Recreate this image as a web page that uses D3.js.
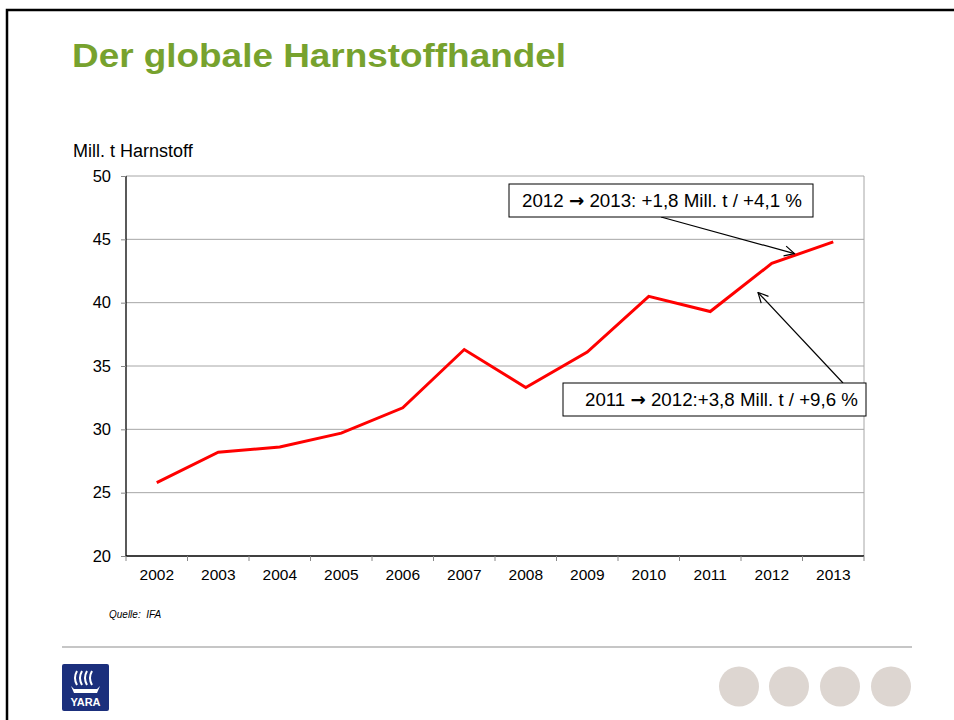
<!DOCTYPE html>
<html>
<head>
<meta charset="utf-8">
<script src="https://cdn.jsdelivr.net/npm/d3@7"></script>
<style>
  html, body { margin: 0; padding: 0; background: #fff; }
  svg { display: block; font-family: "Liberation Sans", Arial, sans-serif; }
</style>
</head>
<body>
<script>
const years = ["2002","2003","2004","2005","2006","2007","2008","2009","2010","2011","2012","2013"];
const values = [25.8, 28.2, 28.6, 29.7, 31.7, 36.3, 33.3, 36.1, 40.5, 39.3, 43.1, 44.8];
const yTicks = [20, 25, 30, 35, 40, 45, 50];
const titleText = "Der globale Harnstoffhandel";
const yLabel = "Mill. t Harnstoff";
const sourceText = "Quelle:  IFA";
const annotations = [
  { pre: "2012 ", arrow: "\u2192", post: " 2013: +1,8 Mill. t / +4,1 %" },
  { pre: "2011 ", arrow: "\u2192", post: " 2012:+3,8 Mill. t / +9,6 %" }
];

const W = 954, H = 720;
const svg = d3.select("body").append("svg").attr("width", W).attr("height", H);

svg.append("defs").append("marker")
  .attr("id", "arr").attr("viewBox", "0 0 12 12").attr("refX", 11).attr("refY", 6)
  .attr("markerWidth", 12).attr("markerHeight", 12).attr("markerUnits", "userSpaceOnUse")
  .attr("orient", "auto")
  .append("path").attr("d", "M1,1 L11,6 L1,11").attr("fill", "none")
  .attr("stroke", "#000").attr("stroke-width", 1.2);

// slide frame (top + left)
svg.append("path").attr("d", "M7,720 L7,10 L954,10").attr("fill", "none")
  .attr("stroke", "#000").attr("stroke-width", 2.5);

// title
svg.append("text").attr("x", 72).attr("y", 67).text(titleText)
  .attr("font-size", 33).attr("font-weight", "bold").attr("fill", "#77a22e")
  .attr("textLength", 494).attr("lengthAdjust", "spacingAndGlyphs");

const plot = { left: 126, right: 864, top: 176, bottom: 556 };
const x = d3.scaleBand().domain(years).range([plot.left, plot.right]);
const y = d3.scaleLinear().domain([20, 50]).range([plot.bottom, plot.top]);

// gridlines
svg.append("g").selectAll("line").data(yTicks.filter(d => d > 20)).join("line")
  .attr("x1", plot.left).attr("x2", plot.right)
  .attr("y1", d => y(d)).attr("y2", d => y(d))
  .attr("stroke", "#a6a6a6").attr("stroke-width", 1);
svg.append("line").attr("x1", plot.right).attr("x2", plot.right)
  .attr("y1", plot.top).attr("y2", plot.bottom)
  .attr("stroke", "#a6a6a6").attr("stroke-width", 1);

// y axis
const yAxis = svg.append("g").attr("transform", `translate(${plot.left},0)`)
  .call(d3.axisLeft(y).tickValues(yTicks).tickSize(5).tickPadding(10));
yAxis.select(".domain").attr("stroke", "#000").attr("stroke-width", 1.3).attr("d", `M0,${plot.top}V${plot.bottom}`);
yAxis.selectAll(".tick line").attr("stroke", "#888");
yAxis.selectAll(".tick text").attr("font-size", 16.5).attr("fill", "#000")
  .attr("font-family", "Liberation Sans, Arial, sans-serif");

// x axis
const xAxis = svg.append("g").attr("transform", `translate(0,${plot.bottom})`)
  .call(d3.axisBottom(x).tickSize(0).tickPadding(13));
xAxis.select(".domain").attr("stroke", "#000").attr("stroke-width", 1.3).attr("d", `M${plot.left},0H${plot.right}`);
xAxis.selectAll(".tick text").attr("font-size", 15.5).attr("fill", "#000")
  .attr("font-family", "Liberation Sans, Arial, sans-serif");
const bounds = years.map(d => x(d)).concat([x(years[years.length - 1]) + x.bandwidth()]);
svg.append("g").selectAll("line").data(bounds).join("line")
  .attr("x1", d => d).attr("x2", d => d)
  .attr("y1", plot.bottom).attr("y2", plot.bottom + 5)
  .attr("stroke", "#888").attr("stroke-width", 1);

// y label
svg.append("text").attr("x", 73).attr("y", 157).text(yLabel)
  .attr("font-size", 18).attr("fill", "#000");

// line
const cx = d => x(d) + x.bandwidth() / 2;
const line = d3.line().x((d, i) => cx(years[i])).y(d => y(d));
svg.append("path").datum(values).attr("d", line)
  .attr("fill", "none").attr("stroke", "#ff0000").attr("stroke-width", 3)
  .attr("stroke-linejoin", "miter");

function midpoint(a, b) {
  const ia = years.indexOf(a), ib = years.indexOf(b);
  return [(cx(a) + cx(b)) / 2, (y(values[ia]) + y(values[ib])) / 2];
}
function label(a, tx, ty, len) {
  const t = svg.append("text").attr("x", tx).attr("y", ty).attr("font-size", 18.5).attr("fill", "#000")
    .attr("xml:space", "preserve").attr("textLength", len).attr("lengthAdjust", "spacingAndGlyphs");
  t.append("tspan").text(a.pre);
  t.append("tspan").text(a.arrow).attr("font-family", "DejaVu Sans").attr("font-weight", "bold").attr("font-size", 18);
  t.append("tspan").text(a.post);
}
// annotation 1
{
  const box = { x: 509, y: 184, w: 304, h: 33 };
  const m = midpoint("2012", "2013");
  svg.append("line").attr("x1", 661).attr("y1", box.y + box.h)
    .attr("x2", m[0] - 8).attr("y2", m[1] + 1)
    .attr("stroke", "#000").attr("stroke-width", 1.2).attr("marker-end", "url(#arr)");
  svg.append("rect").attr("x", box.x).attr("y", box.y).attr("width", box.w).attr("height", box.h)
    .attr("fill", "#fff").attr("stroke", "#000").attr("stroke-width", 1);
  label(annotations[0], 522, 207, 280);
}
// annotation 2
{
  const box = { x: 563, y: 383, w: 303, h: 33 };
  const m = midpoint("2011", "2012");
  svg.append("line").attr("x1", 843).attr("y1", box.y)
    .attr("x2", m[0] + 17).attr("y2", m[1] + 5)
    .attr("stroke", "#000").attr("stroke-width", 1.2).attr("marker-end", "url(#arr)");
  svg.append("rect").attr("x", box.x).attr("y", box.y).attr("width", box.w).attr("height", box.h)
    .attr("fill", "#fff").attr("stroke", "#000").attr("stroke-width", 1);
  label(annotations[1], 585, 406, 273);
}

// source
svg.append("text").attr("x", 109).attr("y", 618).text(sourceText)
  .attr("font-size", 10).attr("font-style", "italic").attr("fill", "#000")
  .attr("xml:space", "preserve").style("white-space", "pre");

// footer line
svg.append("line").attr("x1", 62).attr("x2", 912).attr("y1", 647).attr("y2", 647)
  .attr("stroke", "#b3b3b3").attr("stroke-width", 1.3);

// logo
const logo = svg.append("g").attr("transform", "translate(62,664)");
logo.append("rect").attr("width", 47).attr("height", 47).attr("rx", 2).attr("fill", "#1b2f7c");
[0, 1, 2, 3].forEach(i => {
  logo.append("path").attr("d", `M${15 + i * 5},7 Q${11 + i * 5},14 ${15 + i * 5},21`)
    .attr("fill", "none").attr("stroke", "#fff").attr("stroke-width", 2);
});
logo.append("path").attr("d", "M9,22 L12,29 L35,29 L38,22 L35,25 L12,25 Z").attr("fill", "#fff");
logo.append("text").attr("x", 23.5).attr("y", 42).attr("text-anchor", "middle")
  .attr("font-size", 11).attr("font-weight", "bold").attr("fill", "#fff").text("YARA");

// circles
svg.append("g").selectAll("circle").data([739, 789, 840, 891]).join("circle")
  .attr("cx", d => d).attr("cy", 686.5).attr("r", 20).attr("fill", "#ddd6d1");
</script>
</body>
</html>
